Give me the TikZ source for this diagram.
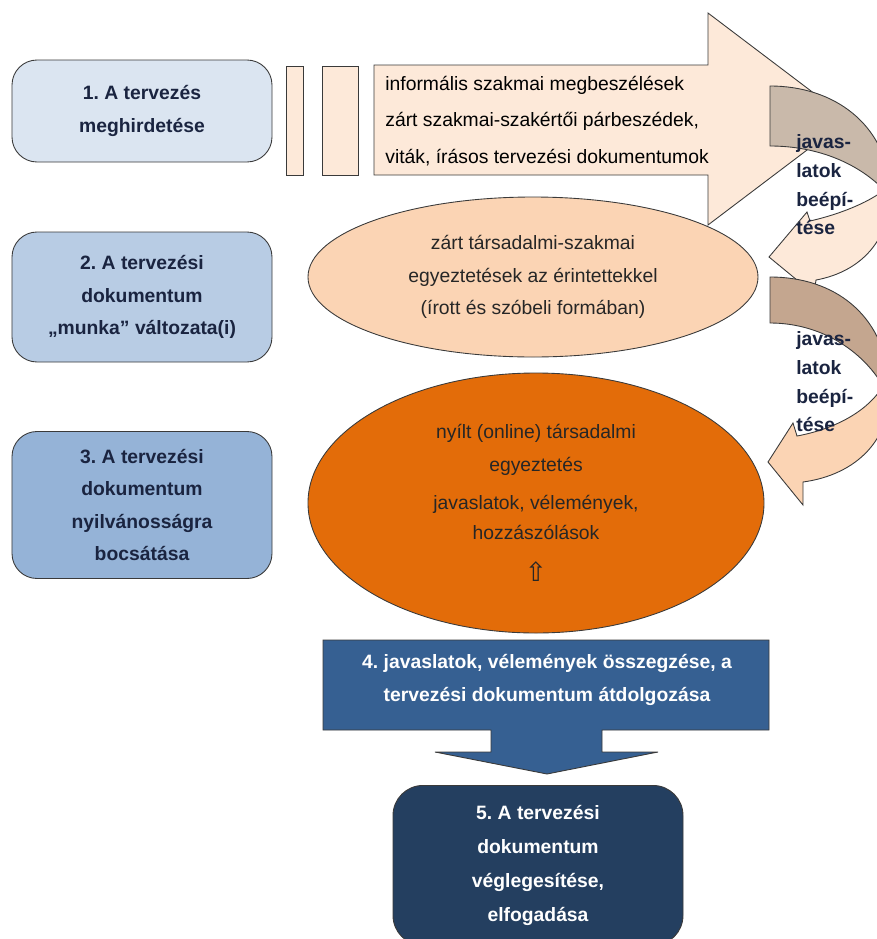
\documentclass[tikz,border=0pt]{standalone}
\usepackage{fontspec}
\setmainfont{Liberation Sans}
\newfontfamily\symfont{DejaVu Sans}
\usetikzlibrary{shapes.geometric}
\frenchspacing
\definecolor{stepone}{HTML}{DBE5F1}
\definecolor{steptwo}{HTML}{B8CCE4}
\definecolor{stepthree}{HTML}{95B3D7}
\definecolor{stepfour}{HTML}{366092}
\definecolor{stepfive}{HTML}{243F60}
\definecolor{peach}{HTML}{FDE9D9}
\definecolor{apricot}{HTML}{FBD4B4}
\definecolor{pumpkin}{HTML}{E36C09}
\definecolor{backone}{HTML}{C9B9AA}
\definecolor{backtwo}{HTML}{C4A68F}
\definecolor{navytext}{HTML}{1A2440}
\definecolor{edge}{HTML}{3A3A3A}

\begin{document}
\begin{tikzpicture}[x=0.2mm, y=-0.2mm,
  every node/.style={align=center, font=\fontsize{11}{18.5}\selectfont},
  outline/.style={draw=edge, line width=0.5pt},
  stagebox/.style={outline, rounded corners=5mm, minimum width=52mm,
    font=\fontsize{11}{18.5}\selectfont\bfseries, text=navytext},
  talkblob/.style={outline, ellipse, inner sep=0pt, text=black!85},
  sidenote/.style={anchor=west, inner sep=0pt, align=left, text=navytext,
    font=\fontsize{11}{16.3}\selectfont\bfseries}]
  \useasboundingbox (0,0) rectangle (877,939);
  \clip (0,0) rectangle (877,939);

  % Stages on the left
  \node[stagebox, fill=stepone, minimum height=20.4mm] (stage1) at (142,111)
    {1. A tervezés\\meghirdetése};
  \node[stagebox, fill=steptwo, minimum height=26mm] (stage2) at (142,297)
    {2. A tervezési\\dokumentum\\„munka” változata(i)};
  \node[stagebox, fill=stepthree, minimum height=29.4mm] (stage3) at (142,505)
    {3. A tervezési\\dokumentum\\nyilvánosságra\\bocsátása};

  % Informal round: two bars and the big arrow
  \foreach \xa/\xb in {286/303, 322/358}
    \draw[outline, fill=peach] (\xa,66) rectangle (\xb,175);
  \draw[outline, fill=peach] (374,65) -- (708,65) -- (708,13) -- (848,119)
    -- (708,225) -- (708,175) -- (374,175) -- cycle;
  \node[anchor=west, align=left, inner sep=0pt, font=\fontsize{11}{20.7}\selectfont] (informal) at (385,121)
    {informális szakmai megbeszélések\\zárt szakmai-szakértői párbeszédek,\\viták, írásos tervezési dokumentumok};

  % Consultations
  \node[talkblob, fill=apricot, minimum width=90mm, minimum height=32mm] (closed) at (533,277)
    {zárt társadalmi-szakmai\\egyeztetések az érintettekkel\\(írott és szóbeli formában)};
  \node[talkblob, fill=pumpkin, minimum width=91.2mm, minimum height=52mm] (open) at (536,503)
    {nyílt (online) társadalmi\\egyeztetés\\[3pt]javaslatok, vélemények,\\[-1pt]hozzászólások\\[5pt]{\symfont\fontsize{15}{15}\selectfont ⇧}};

  % Feedback arrows on the right
  \draw[outline, fill=backone] (770,86) .. controls (835,86) and (885,125) .. (890,186)
    -- (884,190) .. controls (860,165) and (820,146) .. (770,146) -- cycle;
  \draw[outline, fill=peach] (890,186) .. controls (893,240) and (860,272) .. (816,280)
    -- (814,294) -- (769,257) -- (807,212) -- (810,221)
    .. controls (845,213) and (872,200) .. (884,190) -- cycle;
  \draw[outline, fill=backtwo] (770,277) .. controls (835,277) and (883,315) .. (889,380)
    -- (883,386) .. controls (862,350) and (820,323) .. (770,323) -- cycle;
  \draw[outline, fill=apricot] (889,380) .. controls (895,440) and (855,475) .. (803,482)
    -- (803,505) -- (768,462) -- (793,423) -- (797,436)
    .. controls (840,428) and (870,408) .. (883,386) -- cycle;
  \foreach \yy/\nm in {185/back1, 382/back2}
    \node[sidenote] (\nm) at (796,\yy) {javas-\\latok\\beépí-\\tése};

  % Summary arrow and final step
  \draw[outline, fill=stepfour] (323,640) -- (769,640) -- (769,730) -- (602,730)
    -- (602,752) -- (658,752) -- (547,774) -- (435,752) -- (491,752)
    -- (491,730) -- (323,730) -- cycle;
  \node[text=white, font=\fontsize{11}{19}\selectfont\bfseries] (step4) at (547,680)
    {4. javaslatok, vélemények összegzése, a\\tervezési dokumentum átdolgozása};
  \node[stagebox, fill=stepfive, text=white, rounded corners=6mm, minimum width=58mm,
    minimum height=32mm, anchor=north, font=\fontsize{11}{19.2}\selectfont\bfseries] (step5) at (538,785)
    {5. A tervezési\\dokumentum\\véglegesítése,\\elfogadása};
\end{tikzpicture}
\end{document}
